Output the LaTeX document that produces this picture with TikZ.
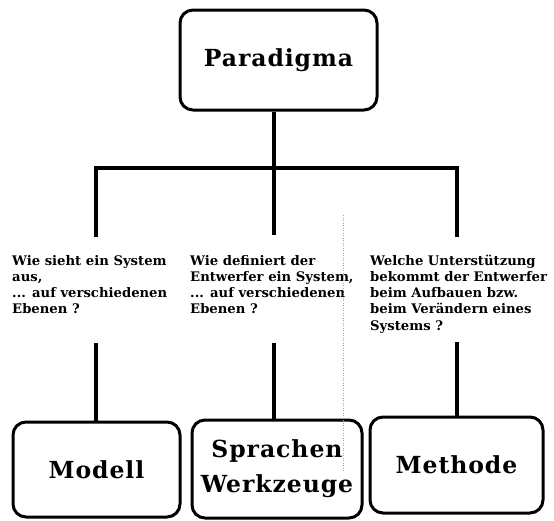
\documentclass[tikz,border=0pt]{standalone}
\usepackage{fontspec}
\newfontfamily\labfont{DejaVu Serif}[LetterSpace=4]
\newfontfamily\qfont{DejaVu Serif}
\begin{document}
\begin{tikzpicture}[x=1pt,y=-1pt,
  box/.style={draw, line width=3pt, rounded corners=13pt, align=center,
    font=\labfont\bfseries\fontsize{23.5}{35}\selectfont, inner sep=0pt},
  conn/.style={line width=4.4pt},
  question/.style={anchor=north west, align=left, inner sep=0pt,
    font=\qfont\bfseries\fontsize{13.2}{16.1}\selectfont},
  artifact/.style={draw=black!35, line width=0.5pt, dotted}]
\useasboundingbox (0,0) rectangle (554,520);
% boxes
\node[box, minimum width=197pt, minimum height=100pt] (para) at (278.5,60) {Paradigma};
\node[box, minimum width=167pt, minimum height=95pt] (modell) at (96.5,469.5) {Modell};
\node[box, minimum width=170pt, minimum height=98pt] (sprach) at (277,469) {Sprachen\\Werkzeuge};
\node[box, minimum width=173pt, minimum height=96pt] (meth) at (456.5,465) {Methode};
% questions
\node[question] (q1) at (12,255) {Wie sieht ein System\\aus,\\... auf verschiedenen\\Ebenen ?};
\node[question] (q2) at (190,255) {Wie definiert der\\Entwerfer ein System,\\... auf verschiedenen\\Ebenen ?};
\node[question] (q3) at (370,255) {Welche Unterst\"utzung\\bekommt der Entwerfer\\beim Aufbauen bzw.\\beim Ver\"andern eines\\Systems ?};
% connector coordinates
\coordinate (jl) at (96,168);
\coordinate (jm) at (274,168);
\coordinate (jr) at (457,168);
\coordinate (u1) at (96,235);
\coordinate (u2) at (274,235);
\coordinate (u3) at (457,235);
\coordinate (l1) at (96,343);
\coordinate (l2) at (274,343);
\coordinate (l3) at (457,342);
% connectors
\draw[conn] (para.south -| jm) -- (jm);
\draw[conn, line cap=rect] (u1) -- (jl) -- (jr) -- (u3);
\draw[conn] (jm) -- (u2);
\draw[conn] (l1) -- (l1 |- modell.north);
\draw[conn] (l2) -- (l2 |- sprach.north);
\draw[conn] (l3) -- (l3 |- meth.north);
% faint scan artefact
\draw[artifact] (343,215) -- (343,472);
\end{tikzpicture}
\end{document}
